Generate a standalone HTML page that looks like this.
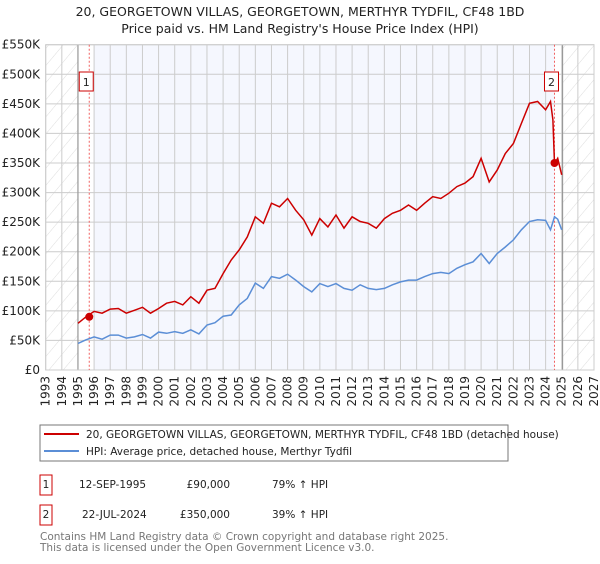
<!DOCTYPE html>
<html><head><meta charset="utf-8"><style>
body{margin:0;background:#fff;font-family:"DejaVu Sans","Liberation Sans",sans-serif;}
svg text{font-family:"DejaVu Sans","Liberation Sans",sans-serif;}
</style></head><body>
<svg id="c" width="600" height="560" xmlns="http://www.w3.org/2000/svg">
<defs><pattern id="hatch" width="11" height="11" patternUnits="userSpaceOnUse" patternTransform="rotate(40)"><line x1="0" y1="0" x2="0" y2="11" stroke="#d4d4d4" stroke-width="0.8"/></pattern></defs>
<text x="300" y="16" text-anchor="middle" font-size="12.5" fill="#222">20, GEORGETOWN VILLAS, GEORGETOWN, MERTHYR TYDFIL, CF48 1BD</text>
<text x="300" y="33" text-anchor="middle" font-size="12.5" fill="#222">Price paid vs. HM Land Registry's House Price Index (HPI)</text>
<g id="plot"></g>
<rect x="40" y="425" width="468" height="36" fill="#fff" stroke="#777"/>
<line x1="44" y1="434" x2="79" y2="434" stroke="#cc0000" stroke-width="2"/>
<text x="86" y="438" font-size="10.5" fill="#222">20, GEORGETOWN VILLAS, GEORGETOWN, MERTHYR TYDFIL, CF48 1BD (detached house)</text>
<line x1="44" y1="451" x2="79" y2="451" stroke="#5b8ed6" stroke-width="2"/>
<text x="86" y="455" font-size="10.5" fill="#222">HPI: Average price, detached house, Merthyr Tydfil</text>
<g font-size="10.5" fill="#222">
<rect x="40" y="475" width="12" height="20" fill="#fff" stroke="#cc0000"/>
<text x="46" y="488" text-anchor="middle">1</text>
<text x="79" y="488">12-SEP-1995</text>
<text x="230" y="488" text-anchor="end">£90,000</text>
<text x="272" y="488">79% ↑ HPI</text>
<rect x="40" y="505" width="12" height="20" fill="#fff" stroke="#cc0000"/>
<text x="46" y="518" text-anchor="middle">2</text>
<text x="82" y="518">22-JUL-2024</text>
<text x="230" y="518" text-anchor="end">£350,000</text>
<text x="272" y="518">39% ↑ HPI</text>
</g>
<text x="40" y="540" font-size="10.5" fill="#777">Contains HM Land Registry data © Crown copyright and database right 2025.</text>
<text x="40" y="551" font-size="10.5" fill="#777">This data is licensed under the Open Government Licence v3.0.</text>
</svg>
<script>
const years=[1995,1995.5,1996,1996.5,1997,1997.5,1998,1998.5,1999,1999.5,2000,2000.5,2001,2001.5,2002,2002.5,2003,2003.5,2004,2004.5,2005,2005.5,2006,2006.5,2007,2007.5,2008,2008.5,2009,2009.5,2010,2010.5,2011,2011.5,2012,2012.5,2013,2013.5,2014,2014.5,2015,2015.5,2016,2016.5,2017,2017.5,2018,2018.5,2019,2019.5,2020,2020.5,2021,2021.5,2022,2022.5,2023,2023.5,2024,2024.3,2024.45,2024.55,2024.75,2025];
const hpi=[45,51,56,52,59,59,54,56,60,54,64,62,65,62,68,61,76,80,91,93,110,121,147,138,158,155,162,152,141,132,146,141,146,138,135,144,138,136,138,144,149,152,152,158,163,165,163,172,178,183,197,180,197,208,220,237,251,254,253,237,250,259,255,237];
const price=[79,90,99,96,103,104,96,101,106,96,104,113,116,110,124,113,135,138,163,186,203,225,259,248,282,276,290,270,254,228,256,242,262,240,259,251,248,240,256,265,270,279,270,282,293,290,299,310,316,327,358,318,338,366,383,417,451,454,440,454,423,349,358,330];
const yTicks=[0,50,100,150,200,250,300,350,400,450,500,550];
const yTickLabels=["£0","£50K","£100K","£150K","£200K","£250K","£300K","£350K","£400K","£450K","£500K","£550K"];
const saleYears=[1995.7,2024.55];
const salePrices=[90,350];
const saleLabels=["1","2"];
const X0=45.7,X1=594,Y0=370,Y1=44.7;
const xs=y=>X0+(y-1993)/34*(X1-X0);
const ys=v=>Y0-v/550*(Y0-Y1);
const NS="http://www.w3.org/2000/svg";
const g=document.getElementById('plot');
function mk(t,a){const e=document.createElementNS(NS,t);for(const k in a)e.setAttribute(k,a[k]);g.appendChild(e);return e;}
let e=mk('rect',{x:X0,y:Y1,width:X1-X0,height:Y0-Y1,fill:'#f5f7fe'});


e=mk('rect',{x:X0,y:Y1,width:xs(1995)-X0,height:Y0-Y1,fill:'#fff'});


e=mk('rect',{x:X0,y:Y1,width:xs(1995)-X0,height:Y0-Y1,fill:'url(#hatch)'});


e=mk('rect',{x:xs(1995),y:Y1,width:xs(saleYears[0])-xs(1995)+5,height:Y0-Y1,fill:'#fff'});


e=mk('rect',{x:xs(2025.05),y:Y1,width:X1-xs(2025.05),height:Y0-Y1,fill:'#fff'});


e=mk('rect',{x:xs(2025.05),y:Y1,width:X1-xs(2025.05),height:Y0-Y1,fill:'url(#hatch)'});


e=mk('rect',{x:xs(saleYears[1]),y:Y1,width:xs(2025.05)-xs(saleYears[1]),height:Y0-Y1,fill:'#fff'});


for(let i=0;i<yTicks.length;i++){
 const y=ys(yTicks[i]);
 e=mk('line',{x1:X0,x2:X1,y1:y,y2:y,stroke:'#ccc','stroke-width':1});
 
 
 e=mk('text',{x:40,y:y+4,'text-anchor':'end','font-size':12,fill:'#222'});e.textContent=yTickLabels[i];
 
 
}
for(let yr=1993;yr<=2027;yr++){
 const x=xs(yr);
 e=mk('line',{x1:x,x2:x,y1:Y1,y2:Y0,stroke:'#ccc','stroke-width':1});
 
 
 e=mk('text',{x:0,y:0,'text-anchor':'end','font-size':12,fill:'#222',transform:`translate(${x+4},${Y0+6}) rotate(-90)`});e.textContent=yr;
 
 
}
e=mk('line',{x1:xs(1995),x2:xs(1995),y1:Y1,y2:Y0,stroke:'#999','stroke-width':1.2});


e=mk('line',{x1:xs(2025.05),x2:xs(2025.05),y1:Y1,y2:Y0,stroke:'#999','stroke-width':1.2});


e=mk('rect',{x:X0,y:Y1,width:X1-X0,height:Y0-Y1,fill:'none',stroke:'#ccc'});


for(let i=0;i<saleYears.length;i++){
 const x=xs(saleYears[i]);
 e=mk('line',{x1:x,x2:x,y1:Y1,y2:Y0,stroke:'#f06060','stroke-width':1,'stroke-dasharray':'2,2'});
 
 
}
const pts=a=>a.map((v,i)=>xs(years[i]).toFixed(1)+','+ys(v).toFixed(1)).join(' ');
e=mk('polyline',{points:pts(hpi),fill:'none',stroke:'#5b8ed6','stroke-width':1.5});


e=mk('polyline',{points:pts(price),fill:'none',stroke:'#cc0000','stroke-width':1.5});


for(let i=0;i<saleYears.length;i++){
 const x=xs(saleYears[i]),y=ys(salePrices[i]);
 e=mk('circle',{cx:x,cy:y,r:4,fill:'#cc0000'});
 
 
 const bx=xs(saleYears[i])-10;
 e=mk('rect',{x:bx,y:72,width:14,height:19,fill:'#fff',stroke:'#cc0000'});
 
 
 e=mk('text',{x:bx+7,y:86,'text-anchor':'middle','font-size':11,fill:'#222'});e.textContent=saleLabels[i];
 
 
}
</script>
</body></html>
